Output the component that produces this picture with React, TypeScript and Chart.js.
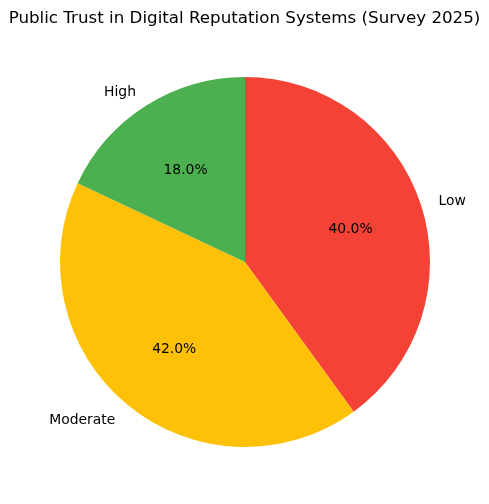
import { useEffect, useRef } from "react";
import Chart from "chart.js/auto";

const categories = ["High", "Moderate", "Low"];
const shares = [18, 42, 40];
const colors = ["#4CAF50", "#FFC107", "#F44336"];
const title = "Public Trust in Digital Reputation Systems (Survey 2025)";

const FONT = "'DejaVu Sans', sans-serif";

// matplotlib goes counter-clockwise from the top, Chart.js clockwise, so flip the order
const order = categories.map((_, i) => categories.length - 1 - i);

const pieLabels = {
  id: "pieLabels",
  afterDraw(chart: Chart) {
    const ctx = chart.ctx;
    const arcs = chart.getDatasetMeta(0).data as any[];
    const total = shares.reduce((a, b) => a + b, 0);

    ctx.save();
    ctx.fillStyle = "#000";
    ctx.font = `16.7px ${FONT}`;
    ctx.textAlign = "center";
    ctx.textBaseline = "middle";
    ctx.fillText(title, chart.width / 2, 19);

    ctx.font = `13.9px ${FONT}`;
    const dy = 2; // matplotlib centres a bit lower than canvas "middle"
    arcs.forEach((arc, i) => {
      const idx = order[i];
      const mid = (arc.startAngle + arc.endAngle) / 2;
      const r = arc.outerRadius;
      const c = Math.cos(mid);
      const s = Math.sin(mid);

      ctx.textAlign = c > 0 ? "left" : "right";
      ctx.fillText(categories[idx], arc.x + r * 1.1 * c, arc.y + r * 1.1 * s + dy);

      ctx.textAlign = "center";
      const pct = ((shares[idx] / total) * 100).toFixed(1) + "%";
      ctx.fillText(pct, arc.x + r * 0.6 * c, arc.y + r * 0.6 * s + dy);
    });
    ctx.restore();
  },
};

export default function App() {
  const ref = useRef<HTMLCanvasElement>(null);

  useEffect(() => {
    if (!ref.current) return;
    const chart = new Chart(ref.current, {
      type: "pie",
      data: {
        labels: order.map((i) => categories[i]),
        datasets: [
          {
            data: order.map((i) => shares[i]),
            backgroundColor: order.map((i) => colors[i]),
            borderWidth: 0,
          },
        ],
      },
      options: {
        responsive: false,
        animation: false,
        layout: { padding: { top: 77, bottom: 57, left: 60, right: 59 } },
        plugins: {
          legend: { display: false },
          title: { display: false },
          tooltip: { enabled: false },
        },
      },
      plugins: [pieLabels],
    });
    return () => {
      chart.destroy();
    };
  }, []);

  return (
    <div style={{ position: "absolute", left: 0, top: 0, width: 489, height: 504, background: "#fff" }}>
      <canvas ref={ref} width={489} height={504} />
    </div>
  );
}
